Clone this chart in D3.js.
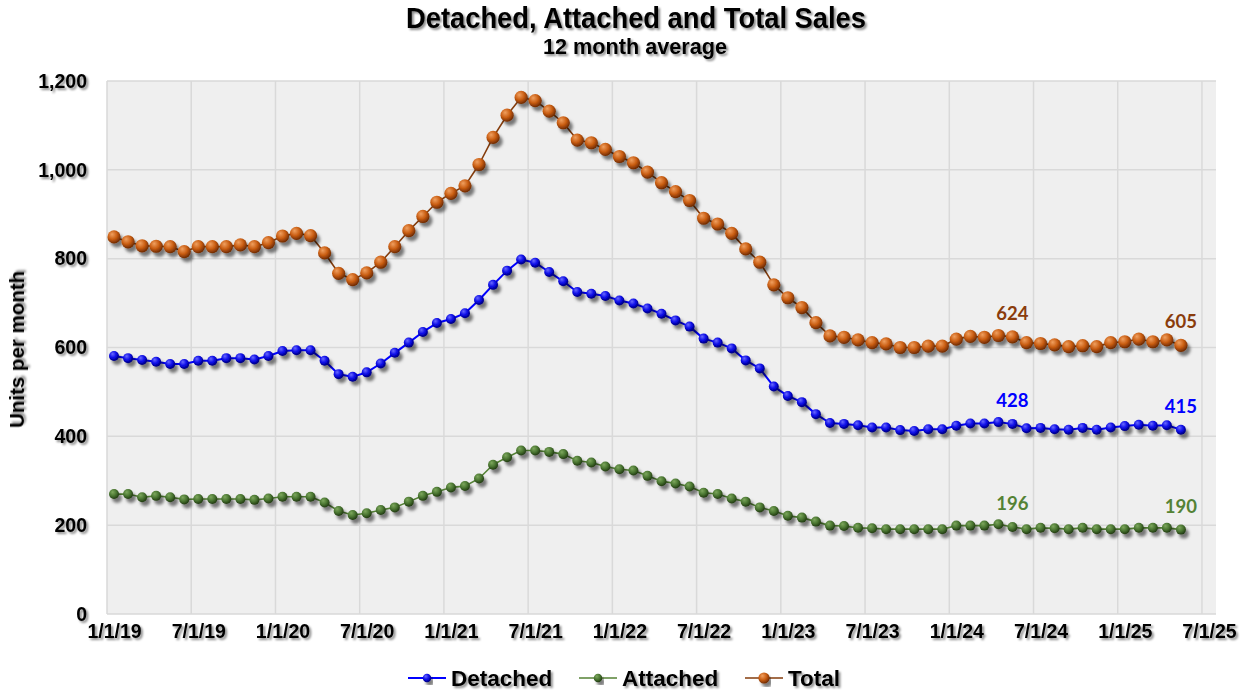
<!DOCTYPE html>
<html>
<head>
<meta charset="utf-8">
<script src="https://cdn.jsdelivr.net/npm/d3@7"></script>
<style>
  html, body { margin: 0; padding: 0; background: #ffffff; }
  svg { display: block; }
</style>
</head>
<body>
<svg id="chart" width="1241" height="694"></svg>
<script>
// ---------------- DATA ----------------
const titleText = "Detached, Attached and Total Sales";
const subtitleText = "12 month average";
const yAxisTitle = "Units per month";
const seriesNames = ["Detached", "Attached", "Total"];

// months Jan 2019 .. May 2025 (77 monthly points, 12-month averages)
const firstMonth = new Date(2019, 0, 1);
const lastMonthExclusive = new Date(2025, 5, 1);

const detached = [581,576,572,568,563,563,570,570,576,576,573,581,
  592,594,594,570,540,534,544,564,588,611,635,655,
  664,677,707,741,773,798,791,770,749,725,721,716,
  706,699,688,676,661,647,620,611,598,571,553,512,
  491,477,450,430,428,425,420,420,414,412,416,416,
  424,429,429,432,428,418,419,416,415,419,415,420,
  423,426,424,425,415];

const attached = [270,270,263,266,263,258,259,259,259,259,257,260,
  264,264,264,251,232,223,227,234,240,253,266,275,
  285,288,305,336,353,368,368,365,360,345,341,332,
  326,323,311,299,294,287,273,270,260,253,240,232,
  221,217,208,199,198,194,193,191,191,191,191,191,
  199,199,199,202,196,191,194,193,191,194,191,191,
  191,194,194,194,190];

const total = [849,838,829,828,827,816,827,827,827,831,827,836,
  851,857,852,813,767,753,768,792,827,863,895,927,
  947,964,1012,1073,1123,1163,1156,1132,1106,1067,1061,1046,
  1030,1016,995,971,951,931,891,878,857,822,792,741,
  712,690,656,626,623,617,611,608,600,600,603,603,
  619,625,623,627,624,611,609,606,602,604,602,611,
  613,619,613,617,605];

const xTickLabels = ["1/1/19","7/1/19","1/1/20","7/1/20","1/1/21","7/1/21","1/1/22",
  "7/1/22","1/1/23","7/1/23","1/1/24","7/1/24","1/1/25","7/1/25"];
const yTicks = [0, 200, 400, 600, 800, 1000, 1200];
// indices of the labelled points (May 2024, May 2025)
const labelIdx = [64, 76];

// ---------------- LAYOUT ----------------
const svg = d3.select("#chart");
const plot = { left: 107, right: 1216, top: 81, bottom: 614 };

const months = d3.timeMonth.range(firstMonth, lastMonthExclusive);
const nSlots = months.length + 2; // axis runs through July 2025

const x = d3.scaleLinear().domain([0, nSlots]).range([plot.left, plot.right]);
const y = d3.scaleLinear().domain([0, 1200]).range([plot.bottom, plot.top]);

const defs = svg.append("defs");

// text shadow
const ts = defs.append("filter").attr("id", "tshadow").attr("x", "-10%").attr("y", "-30%").attr("width", "130%").attr("height", "170%");
ts.append("feDropShadow").attr("dx", 2).attr("dy", 2).attr("stdDeviation", 1.3)
  .attr("flood-color", "#000").attr("flood-opacity", 0.45);

// marker shadow
const ms = defs.append("filter").attr("id", "mshadow").attr("x", "-5%").attr("y", "-5%").attr("width", "115%").attr("height", "130%");
ms.append("feDropShadow").attr("dx", 3).attr("dy", 4).attr("stdDeviation", 1.8)
  .attr("flood-color", "#000").attr("flood-opacity", 0.5);

function sphere(id, light, mid, dark) {
  const g = defs.append("radialGradient").attr("id", id)
    .attr("cx", "40%").attr("cy", "35%").attr("r", "65%").attr("fx", "35%").attr("fy", "30%");
  g.append("stop").attr("offset", "0%").attr("stop-color", light);
  g.append("stop").attr("offset", "55%").attr("stop-color", mid);
  g.append("stop").attr("offset", "100%").attr("stop-color", dark);
}
sphere("gBlue", "#6a6aff", "#0a0ae6", "#00007a");
sphere("gGreen", "#7ea85e", "#4a7631", "#213a12");
sphere("gOrange", "#f0a060", "#c95d12", "#6e2a02");

const series = [
  { name: seriesNames[0], values: detached, line: "#0000ff", lw: 2, fill: "url(#gBlue)", r: 5, label: "#0000ff" },
  { name: seriesNames[1], values: attached, line: "#548235", lw: 1.6, fill: "url(#gGreen)", r: 5, label: "#548235" },
  { name: seriesNames[2], values: total, line: "#843c0c", lw: 1.6, fill: "url(#gOrange)", r: 6.6, label: "#8a3c0c" }
];

// ---------------- PLOT AREA ----------------
svg.append("rect")
  .attr("x", plot.left).attr("y", plot.top)
  .attr("width", plot.right - plot.left).attr("height", plot.bottom - plot.top)
  .attr("fill", "#efefef");

const grid = svg.append("g");
grid.selectAll("line.h").data(yTicks).enter().append("line")
  .attr("x1", plot.left).attr("x2", plot.right)
  .attr("y1", d => y(d)).attr("y2", d => y(d))
  .attr("stroke", "#d9d9d9").attr("stroke-width", 1.5);
grid.selectAll("line.v").data(xTickLabels.map((d, i) => i * 6)).enter().append("line")
  .attr("x1", d => x(d)).attr("x2", d => x(d))
  .attr("y1", plot.top).attr("y2", plot.bottom)
  .attr("stroke", "#d9d9d9").attr("stroke-width", 1.5);

// ---------------- AXES ----------------
const yAxis = svg.append("g")
  .attr("transform", `translate(${plot.left - 20},0)`)
  .call(d3.axisLeft(y).tickValues(yTicks).tickFormat(d3.format(",")).tickSize(0).tickPadding(0));
yAxis.select(".domain").remove();
yAxis.selectAll("text")
  .attr("font-family", "'Liberation Sans', Arial, sans-serif")
  .attr("font-weight", "bold").attr("font-size", 19.5).attr("fill", "#000")
  .attr("filter", "url(#tshadow)");

const xAxis = svg.append("g")
  .attr("transform", `translate(0,${plot.bottom + 10})`)
  .call(d3.axisBottom(x).tickValues(xTickLabels.map((d, i) => i * 6 + 0.5))
    .tickFormat((d, i) => xTickLabels[i]).tickSize(0).tickPadding(0));
xAxis.select(".domain").remove();
xAxis.selectAll("text")
  .attr("font-family", "'Liberation Sans', Arial, sans-serif")
  .attr("font-weight", "bold").attr("font-size", 19.5).attr("fill", "#000")
  .attr("filter", "url(#tshadow)");

// ---------------- SERIES ----------------
const lineGen = vals => d3.line()
  .x((d, i) => x(i + 0.5)).y(d => y(d))(vals);

series.forEach(s => {
  svg.append("path")
    .attr("d", lineGen(s.values))
    .attr("fill", "none").attr("stroke", s.line).attr("stroke-width", s.lw)
    .attr("stroke-linejoin", "round");
});
series.forEach(s => {
  const g = svg.append("g").attr("filter", "url(#mshadow)");
  g.selectAll("circle").data(s.values).enter().append("circle")
    .attr("cx", (d, i) => x(i + 0.5)).attr("cy", d => y(d))
    .attr("r", s.r).attr("fill", s.fill);
});

// data labels
series.forEach(s => {
  svg.append("g").selectAll("text").data(labelIdx).enter().append("text")
    .attr("x", i => x(i + 0.5)).attr("y", i => y(s.values[i]) - 17)
    .attr("text-anchor", "middle")
    .attr("font-family", "Lato, 'Open Sans', sans-serif")
    .attr("font-weight", "bold").attr("font-size", 18.5)
    .attr("fill", s.label)
    .text(i => s.values[i]);
});

// ---------------- TITLES ----------------
svg.append("text")
  .attr("x", 636).attr("y", 28).attr("text-anchor", "middle")
  .attr("font-family", "'Liberation Sans Narrow', 'Arial Narrow', 'Liberation Sans', sans-serif")
  .attr("font-weight", "bold").attr("font-size", 30)
  .attr("textLength", 460).attr("lengthAdjust", "spacingAndGlyphs")
  .attr("filter", "url(#tshadow)")
  .text(titleText);
svg.append("text")
  .attr("x", 635).attr("y", 54).attr("text-anchor", "middle")
  .attr("font-family", "'Liberation Sans Narrow', 'Arial Narrow', 'Liberation Sans', sans-serif")
  .attr("font-weight", "bold").attr("font-size", 22)
  .attr("textLength", 184).attr("lengthAdjust", "spacingAndGlyphs")
  .attr("filter", "url(#tshadow)")
  .text(subtitleText);

svg.append("text")
  .attr("transform", `translate(24,${(plot.top + plot.bottom) / 2 + 2}) rotate(-90)`)
  .attr("text-anchor", "middle")
  .attr("font-family", "'Liberation Sans', Arial, sans-serif")
  .attr("font-weight", "bold").attr("font-size", 20.5)
  .attr("filter", "url(#tshadow)")
  .text(yAxisTitle);

// ---------------- LEGEND ----------------
const legendY = 678;
const legendPos = [408, 579, 745];
series.forEach((s, k) => {
  const g = svg.append("g").attr("transform", `translate(${legendPos[k]},${legendY})`);
  g.append("line").attr("x1", 0).attr("x2", 38).attr("y1", 0).attr("y2", 0)
    .attr("stroke", s.line).attr("stroke-width", s.lw);
  g.append("circle").attr("cx", 19).attr("cy", 0).attr("r", s.r * 0.85).attr("fill", s.fill)
    .attr("filter", "url(#mshadow)");
  g.append("text").attr("x", 43).attr("y", 8)
    .attr("font-family", "'Liberation Sans', Arial, sans-serif")
    .attr("font-weight", "bold").attr("font-size", 22.5)
    .attr("filter", "url(#tshadow)")
    .text(s.name);
});
</script>
</body>
</html>
